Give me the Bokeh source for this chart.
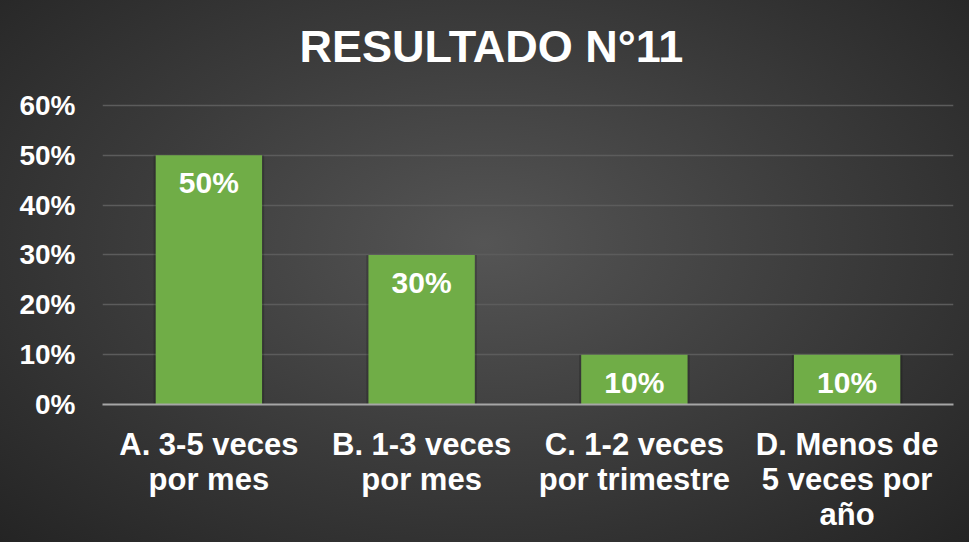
from bokeh.plotting import figure
from bokeh.models import ColumnDataSource, NumeralTickFormatter, FixedTicker, Range1d
from bokeh.core.properties import value
from bokeh.embed import file_html
from bokeh.resources import INLINE

categories = ["A. 3-5 veces\npor mes", "B. 1-3 veces\npor mes",
              "C. 1-2 veces\npor trimestre", "D. Menos de\n5 veces por\naño"]
values = [0.50, 0.30, 0.10, 0.10]
value_labels = ["50%", "30%", "10%", "10%"]
y_ticks = [0.0, 0.1, 0.2, 0.3, 0.4, 0.5, 0.6]
title_text = "RESULTADO N°11"

FONT = "Liberation Sans"

src = ColumnDataSource(dict(cat=categories, val=values, lab=value_labels))

# frame extends a little above the 60% line so the title can sit higher
p = figure(x_range=categories, y_range=Range1d(0, 0.632),
           width=969, height=542, output_backend="svg", toolbar_location=None,
           min_border_left=102, min_border_right=16, min_border_top=85,
           min_border_bottom=138)

p.styles = {"background": "radial-gradient(ellipse farthest-corner at 50% 45%, #555555 0%, #3c3c3c 50%, #242424 100%)"}
p.background_fill_alpha = 0
p.border_fill_alpha = 0
p.outline_line_color = None

p.title.text = title_text
p.title.align = "left"
p.title.offset = 197
p.title.text_color = "white"
p.title.text_font = FONT
p.title.text_font_size = "45px"
p.title.text_font_style = "bold"
p.title.standoff = 36

# bar shadow
p.vbar(x="cat", top="val", width=0.52, source=src, fill_color="black",
       fill_alpha=0.18, line_color=None)
p.vbar(x="cat", top="val", width=0.5, source=src, fill_color="#70AD47",
       line_color=None)
p.text(x="cat", y="val", text="lab", source=src, text_color="white",
       text_font=value(FONT), text_align="center",
       text_baseline="top", y_offset=11, text_font_size="30px",
       text_font_style="bold")

p.xgrid.grid_line_color = None
p.ygrid.grid_line_color = "#5c5c5c"
p.ygrid.grid_line_width = 1.5
p.ygrid.ticker = FixedTicker(ticks=y_ticks)

p.yaxis.ticker = FixedTicker(ticks=y_ticks)
p.yaxis.formatter = NumeralTickFormatter(format="0%")
p.yaxis.axis_line_color = None
p.yaxis.major_tick_line_color = None
p.yaxis.minor_tick_line_color = None
p.yaxis.major_label_standoff = 21
p.yaxis.major_label_text_color = "white"
p.yaxis.major_label_text_font = FONT
p.yaxis.major_label_text_font_size = "28px"
p.yaxis.major_label_text_font_style = "bold"

p.xaxis.axis_line_color = "#a6a6a6"
p.xaxis.axis_line_width = 2
p.xaxis.major_tick_line_color = None
p.xaxis.minor_tick_line_color = None
p.xaxis.major_label_standoff = 16
p.xaxis.major_label_text_color = "white"
p.xaxis.major_label_text_font = FONT
p.xaxis.major_label_text_font_size = "31px"
p.xaxis.major_label_text_font_style = "bold"
p.xaxis.major_label_text_line_height = 1.0

open("out.html", "w").write(file_html(p, INLINE))
